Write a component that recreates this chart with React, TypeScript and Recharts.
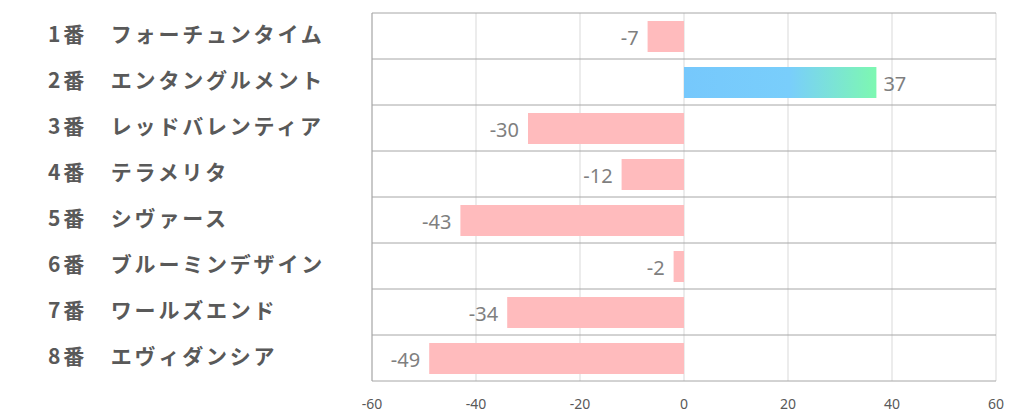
import React from "react";
import { BarChart, Bar, XAxis, YAxis, CartesianGrid, Cell, LabelList } from "recharts";

const names = [
  "1番　フォーチュンタイム",
  "2番　エンタングルメント",
  "3番　レッドバレンティア",
  "4番　テラメリタ",
  "5番　シヴァース",
  "6番　ブルーミンデザイン",
  "7番　ワールズエンド",
  "8番　エヴィダンシア",
];
const values = [-7, 37, -30, -12, -43, -2, -34, -49];
const xTicks = [-60, -40, -20, 0, 20, 40, 60];

const data = names.map((name, i) => ({ name, value: values[i] }));

const W = 1022;
const H = 417;
const M = { top: 13, right: 26, left: 0, bottom: 0 };
const Y_W = 372;
const X_H = 36;

const FONT = "'Noto Sans CJK JP', 'Noto Sans', sans-serif";
const NUM_FONT = "'Noto Sans', 'Open Sans', sans-serif";

const YTick = (props: any) => {
  const { y, payload } = props;
  return (
    <text
      x={48}
      y={y}
      dy={-3}
      dominantBaseline="central"
      textAnchor="start"
      fontFamily={FONT}
      fontWeight={700}
      fontSize={21}
      letterSpacing={2.8}
      fill="#595959"
    >
      {payload.value}
    </text>
  );
};

const ValueLabel = (props: any) => {
  const { x, y, width, height, value } = props;
  const left = Math.min(x, x + width);
  const right = Math.max(x, x + width);
  const neg = value < 0;
  return (
    <text
      x={neg ? left - 9 : right + 7}
      y={y + height / 2}
      dy={1}
      dominantBaseline="central"
      textAnchor={neg ? "end" : "start"}
      fontFamily={NUM_FONT}
      fontSize={20}
      fill="#7f7f7f"
    >
      {value}
    </text>
  );
};

export default function App() {
  return (
    <div style={{ position: "absolute", left: 0, top: 0, width: W, height: H, background: "#fff" }}>
      <BarChart width={W} height={H} data={data} layout="vertical" margin={M} barCategoryGap={0}>
        <defs>
          <linearGradient id="posGrad" x1="0" y1="0" x2="1" y2="0">
            <stop offset="0" stopColor="#76c8fc" />
            <stop offset="0.55" stopColor="#79cefb" />
            <stop offset="1" stopColor="#7df8b1" />
          </linearGradient>
        </defs>
        <CartesianGrid stroke="#d9d9d9" horizontal={false} vertical={true} />
        <CartesianGrid
          stroke="#a6a6a6"
          vertical={false}
          horizontal={true}
          horizontalCoordinatesGenerator={({ offset }: any) => {
            const n = data.length;
            const step = offset.height / n;
            return Array.from({ length: n + 1 }, (_, i) => offset.top + i * step);
          }}
        />
        <XAxis
          type="number"
          domain={[-60, 60]}
          ticks={xTicks}
          height={X_H}
          axisLine={false}
          tickLine={false}
          tickMargin={12}
          tick={{ fill: "#595959", fontSize: 14, fontFamily: NUM_FONT }}
          interval={0}
        />
        <YAxis
          type="category"
          dataKey="name"
          width={Y_W}
          axisLine={{ stroke: "#a6a6a6" }}
          tickLine={false}
          tick={<YTick />}
          interval={0}
        />
        <Bar dataKey="value" barSize={31} isAnimationActive={false}>
          {data.map((d, i) => (
            <Cell key={i} fill={d.value >= 0 ? "url(#posGrad)" : "#ffbbbd"} />
          ))}
          <LabelList dataKey="value" content={<ValueLabel />} />
        </Bar>
      </BarChart>
    </div>
  );
}
